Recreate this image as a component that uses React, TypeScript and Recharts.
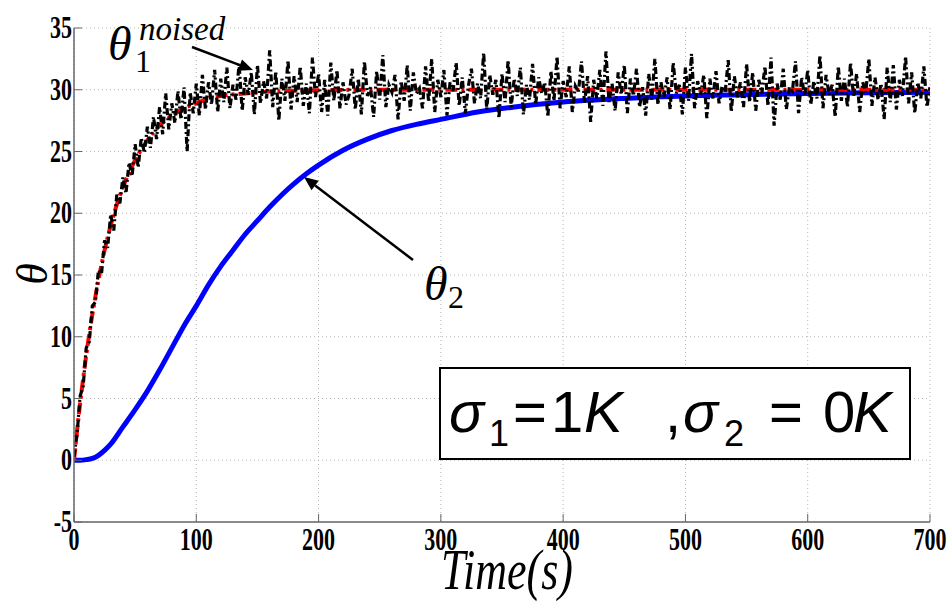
import { LineChart, Line, XAxis, YAxis, CartesianGrid } from 'recharts';

// time axis (s) and temperature axis ticks
const xTicks = [0, 100, 200, 300, 400, 500, 600, 700];
const yTicks = [-5, 0, 5, 10, 15, 20, 25, 30, 35];

// theta_1 (clean)
const redTime = [0, 5, 10, 15, 20, 25, 30, 35, 40, 50, 60, 70, 80, 90, 100, 110, 120, 140, 160, 180, 200, 250, 300, 400, 500, 600, 700];
const redVal = [0, 4.6, 8.5, 11.8, 14.6, 17.0, 19.0, 20.7, 22.1, 24.3, 25.9, 27.1, 27.9, 28.5, 28.9, 29.3, 29.5, 29.7, 29.85, 29.92, 29.96, 30, 30, 30, 30, 30, 30];

// theta_2, blue curve
const blueTime = [0, 5, 10, 15, 20, 25, 30, 40, 50, 60, 70, 80, 90, 100, 110, 120, 130, 140, 150, 160, 170, 180, 190, 200, 220, 240, 260, 280, 300, 330, 360, 400, 450, 500, 550, 600, 650, 700];
const blueVal = [0, 0, 0.05, 0.15, 0.4, 0.8, 1.3, 2.7, 4.1, 5.6, 7.3, 9.1, 10.9, 12.5, 14.2, 15.7, 17.0, 18.3, 19.4, 20.5, 21.5, 22.4, 23.2, 23.9, 25.1, 26.0, 26.7, 27.2, 27.6, 28.2, 28.6, 29.0, 29.3, 29.5, 29.6, 29.7, 29.75, 29.8];

// theta_1 noised, one sample every 2.5 s
const NOISE_STEP = 2.5;
const noisedVal = [
  0.3, 2.1, 5.2, 6.0, 9.1, 9.6, 12.5, 12.8, 15.4, 15.1,
  17.8, 17.2, 19.9, 18.6, 21.5, 20.8, 22.9, 21.6, 24.1, 23.0,
  25.6, 23.7, 26.1, 24.9, 27.0, 25.3, 27.8, 26.0, 28.6, 26.4,
  29.7, 26.8, 28.9, 27.3, 29.9, 27.6, 30.2, 25.0, 29.8, 28.1,
  30.5, 27.9, 31.2, 28.4, 30.6, 28.8, 31.6, 28.2, 30.9, 29.0,
  31.8, 28.5, 30.4, 29.2, 32.1, 28.3, 31.0, 29.6, 31.4, 28.0,
  32.0, 28.9, 30.7, 29.3, 33.2, 28.6, 31.5, 27.5, 30.9, 29.1,
  32.4, 28.4, 31.1, 29.0, 31.9, 28.7, 30.5, 28.1, 32.6, 29.4,
  31.3, 28.2, 30.8, 27.9, 32.2, 29.1, 31.6, 28.5, 30.6, 28.8,
  29.6, 31.7, 28.4, 30.9, 28.0, 32.3, 29.5, 30.2, 27.8, 31.5,
  29.2, 32.8, 28.6, 30.4, 29.8, 31.2, 27.6, 30.7, 29.1, 32.0,
  28.3, 31.4, 29.7, 30.1, 28.5, 31.9, 29.0, 32.5, 28.2, 30.8,
  29.4, 31.6, 27.9, 30.6, 29.9, 32.2, 28.7, 31.0, 28.1, 30.3,
  31.7, 28.9, 30.5, 29.3, 33.0, 28.4, 31.2, 29.6, 30.8, 27.7,
  31.3, 29.0, 32.4, 28.6, 30.9, 29.5, 31.8, 28.0, 30.4, 29.2,
  32.1, 28.8, 31.0, 29.7, 30.6, 27.8, 31.5, 29.1, 32.7, 28.5,
  30.7, 29.4, 31.9, 28.2, 30.3, 29.8, 32.3, 28.9, 31.1, 27.4,
  30.8, 29.3, 31.6, 28.7, 33.1, 29.0, 30.5, 28.3, 31.4, 29.6,
  32.0, 28.1, 30.9, 29.5, 31.7, 28.6, 30.2, 27.9, 31.3, 29.2,
  32.5, 28.8, 30.6, 29.4, 31.0, 28.4, 32.2, 29.7, 30.4, 28.0,
  31.8, 29.1, 32.9, 28.5, 30.7, 29.6, 31.2, 27.7, 30.9, 29.3,
  31.5, 28.9, 30.3, 29.8, 32.4, 28.2, 31.1, 29.4, 30.6, 28.6,
  32.1, 29.0, 31.4, 28.3, 30.8, 29.7, 31.9, 28.7, 32.6, 27.1,
  30.5, 29.2, 31.7, 28.4, 30.2, 29.9, 32.3, 28.1, 31.0, 29.5,
  31.6, 28.8, 30.7, 29.3, 32.8, 28.5, 31.2, 29.6, 30.4, 27.8,
  31.9, 29.1, 30.9, 28.6, 32.2, 29.4, 31.3, 28.2, 30.6, 29.8,
  32.5, 28.7, 31.0, 29.2, 30.5, 27.6, 31.8, 29.0, 32.0, 28.4,
  30.8, 29.5, 32.7, 28.9, 31.4, 28.1, 30.6, 29.3, 31.9, 28.6,
  30.2,
];

const redData = redTime.map((t, i) => ({ t, v: redVal[i] }));
const blueData = blueTime.map((t, i) => ({ t, v: blueVal[i] }));
const noisedData = noisedVal.map((v, i) => ({ t: i * NOISE_STEP, v }));

const SERIF = 'Liberation Serif';
const SANS = 'Liberation Sans';

const XTick = (props: any) => {
  const { x, y, payload } = props;
  return (
    <g>
      <line x1={x} x2={x} y1={y} y2={y - 8} stroke="#666" />
      <text
        transform={`translate(${x},${y + 28}) scale(1,1.4)`}
        textAnchor="middle"
        style={{ fontFamily: SERIF, fontWeight: 'bold', fontSize: 22 }}
        fill="#000"
      >
        {payload.value}
      </text>
    </g>
  );
};

const YTick = (props: any) => {
  const { x, y, payload } = props;
  return (
    <g>
      <line x1={x} x2={x + 8} y1={y} y2={y} stroke="#666" />
      <text
        transform={`translate(${x - 2},${y + 10}) scale(1,1.4)`}
        textAnchor="end"
        style={{ fontFamily: SERIF, fontWeight: 'bold', fontSize: 22 }}
        fill="#000"
      >
        {payload.value}
      </text>
    </g>
  );
};

const Arrow = ({ x1, y1, x2, y2 }: { x1: number; y1: number; x2: number; y2: number }) => {
  const a = Math.atan2(y2 - y1, x2 - x1);
  const len = 14;
  const w = 6;
  const bx = x2 - len * Math.cos(a);
  const by = y2 - len * Math.sin(a);
  const px = -Math.sin(a) * w;
  const py = Math.cos(a) * w;
  return (
    <g>
      <line x1={x1} y1={y1} x2={bx} y2={by} stroke="#000" strokeWidth={2.5} />
      <polygon points={`${x2},${y2} ${bx + px},${by + py} ${bx - px},${by - py}`} fill="#000" />
    </g>
  );
};

const Annotations = () => (
  <svg width={947} height={608} style={{ position: 'absolute', left: 0, top: 0, pointerEvents: 'none' }}>
    {/* y label */}
    <text transform="translate(47,274) rotate(-90)" textAnchor="middle" fill="#000" style={{ fontFamily: SERIF, fontStyle: 'italic', fontSize: 44 }}>θ</text>
    {/* x label */}
    <text transform="translate(507,589) scale(1,1.3)" textAnchor="middle" fill="#000" style={{ fontFamily: SERIF, fontStyle: 'italic', fontSize: 44 }}>Time(s)</text>

    {/* theta_1 noised */}
    <text x={108} y={60} fill="#000" style={{ fontFamily: SERIF, fontStyle: 'italic', fontSize: 48 }}>θ</text>
    <text x={135} y={72} fill="#000" style={{ fontFamily: SERIF, fontSize: 32 }}>1</text>
    <text x={139} y={40} fill="#000" style={{ fontFamily: SERIF, fontStyle: 'italic', fontSize: 33 }}>noised</text>
    <Arrow x1={192} y1={47} x2={253} y2={70} />

    {/* theta_2 */}
    <text x={424} y={300} fill="#000" style={{ fontFamily: SERIF, fontStyle: 'italic', fontSize: 48 }}>θ</text>
    <text x={448} y={308} fill="#000" style={{ fontFamily: SERIF, fontSize: 32 }}>2</text>
    <Arrow x1={413} y1={260} x2={304} y2={177} />

    {/* sigma box */}
    <rect x={440} y={368} width={470} height={91} fill="#fff" stroke="#000" strokeWidth={2} />
    <g style={{ fontFamily: SANS, fontSize: 58 }} fill="#000">
      <text x={449} y={432} fontStyle="italic">σ</text>
      <text x={489} y={446} fill="#000" style={{ fontSize: 36 }}>1</text>
      <text x={513} y={432}>=</text>
      <text x={551} y={432}>1</text>
      <text x={584} y={432} fontStyle="italic">K</text>
      <text x={665} y={432}>,</text>
      <text x={683} y={432} fontStyle="italic">σ</text>
      <text x={724} y={446} fill="#000" style={{ fontSize: 36 }}>2</text>
      <text x={769} y={432}>=</text>
      <text x={823} y={432}>0</text>
      <text x={853} y={432} fontStyle="italic">K</text>
    </g>
  </svg>
);

const App = () => {
  return (
    <div style={{ position: 'absolute', left: 0, top: 0, width: 947, height: 608, background: '#fff' }}>
      <LineChart width={947} height={608} margin={{ top: 28, right: 17, left: 0, bottom: 46 }}>
        <CartesianGrid stroke="#b5b5b5" strokeDasharray="1 3" />
        <XAxis
          dataKey="t"
          type="number"
          domain={[0, 700]}
          ticks={xTicks}
          height={40}
          tickSize={0}
          tickMargin={0}
          tickLine={false}
          axisLine={{ stroke: '#666', strokeWidth: 1.5 }}
          tick={<XTick />}
          allowDataOverflow
        />
        <YAxis
          type="number"
          domain={[-5, 35]}
          ticks={yTicks}
          width={74}
          tickSize={0}
          tickMargin={0}
          tickLine={false}
          axisLine={{ stroke: '#666', strokeWidth: 1.5 }}
          tick={<YTick />}
          allowDataOverflow
        />
        <Line data={blueData} dataKey="v" type="monotone" stroke="#0000ff" strokeWidth={5} dot={false} isAnimationActive={false} />
        <Line data={redData} dataKey="v" type="monotone" stroke="#ff0000" strokeWidth={4} strokeDasharray="12 4 3 4" dot={false} isAnimationActive={false} />
        <Line data={noisedData} dataKey="v" type="linear" stroke="#000" strokeWidth={3.2} strokeDasharray="7 3 2 3" dot={false} isAnimationActive={false} />
      </LineChart>
      <Annotations />
    </div>
  );
};

export default App;
